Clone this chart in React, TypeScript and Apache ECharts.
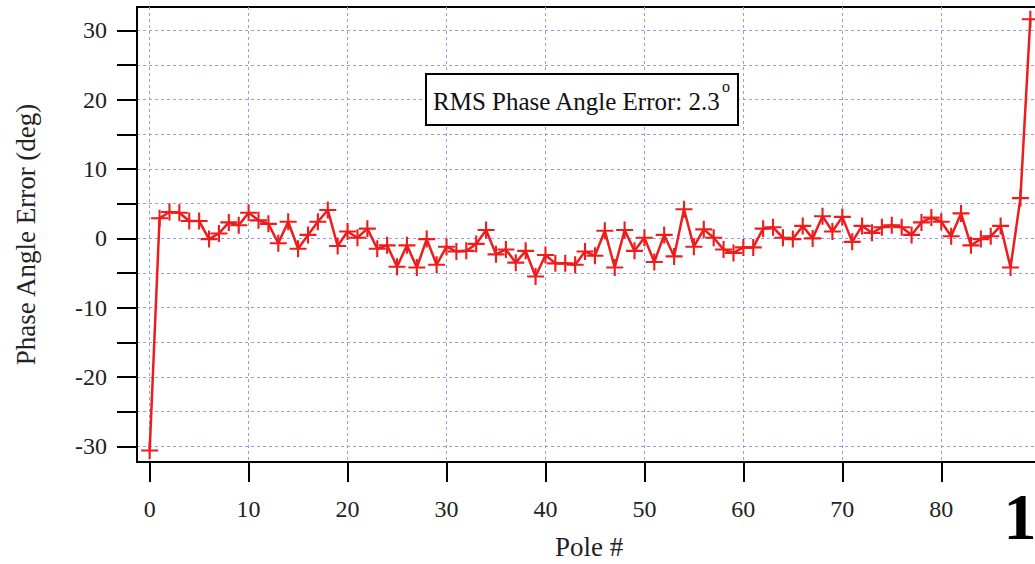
import React, { useEffect, useRef } from "react";
import * as echarts from "echarts";

const poles = [
  0, 1, 2, 3, 4, 5, 6, 7, 8, 9, 10, 11, 12, 13, 14, 15, 16, 17, 18, 19,
  20, 21, 22, 23, 24, 25, 26, 27, 28, 29, 30, 31, 32, 33, 34, 35, 36, 37, 38, 39,
  40, 41, 42, 43, 44, 45, 46, 47, 48, 49, 50, 51, 52, 53, 54, 55, 56, 57, 58, 59,
  60, 61, 62, 63, 64, 65, 66, 67, 68, 69, 70, 71, 72, 73, 74, 75, 76, 77, 78, 79,
  80, 81, 82, 83, 84, 85, 86, 87, 88, 89,
];

const phaseError = [
  -30.6, 2.9, 3.8, 3.7, 2.5, 2.5, -0.1, 0.7, 2.3, 1.9,
  3.7, 2.6, 2.1, -0.7, 2.4, -1.5, 0.5, 2.4, 4.1, -1.1,
  1.0, 0.1, 1.4, -1.5, -1.0, -4.1, -1.0, -4.2, -0.1, -3.8,
  -1.2, -1.9, -1.8, -0.8, 1.2, -2.3, -1.6, -3.5, -1.8, -5.5,
  -2.4, -3.6, -3.6, -3.8, -1.9, -2.5, 1.1, -4.2, 1.2, -1.8,
  0.1, -3.4, 0.5, -2.6, 4.2, -1.2, 1.3, 0.1, -1.6, -2.1,
  -1.3, -1.3, 1.4, 1.6, 0.1, -0.1, 1.8, 0.0, 3.2, 1.0,
  3.1, -0.5, 1.8, 0.8, 1.6, 1.9, 1.6, 0.5, 2.3, 3.0,
  2.4, 0.3, 3.6, -1.0, -0.1, 0.3, 1.8, -4.2, 5.8, 31.6,
];

const xTickValues = [0, 10, 20, 30, 40, 50, 60, 70, 80];
const yTickValues = [-30, -25, -20, -15, -10, -5, 0, 5, 10, 15, 20, 25, 30];
const yLabelValues = [-30, -20, -10, 0, 10, 20, 30];

const FONT = "'Liberation Serif', 'Times New Roman', serif";
const RED = "#ee1c1c";
const GRID_COLOR = "#9a9aec";
const PLUS =
  "path://M7,0 H9 V7 H16 V9 H9 V16 H7 V9 H0 V7 H7 Z";

export default function App() {
  const ref = useRef<HTMLDivElement>(null);

  useEffect(() => {
    if (!ref.current) return;
    const chart = echarts.init(ref.current, null, { renderer: "svg" });
    const option: any = {
      animation: false,
      backgroundColor: "#ffffff",
      textStyle: { fontFamily: FONT },
      grid: {
        left: 137,
        top: 7,
        right: -6,
        bottom: 102,
        show: true,
        borderColor: "#000",
        borderWidth: 2,
        backgroundColor: "#fff",
        containLabel: false,
        outerBoundsMode: "none",
      },
      xAxis: {
        type: "value",
        min: -1.28,
        max: 90.08,
        splitNumber: 9,
        name: "Pole #",
        nameLocation: "middle",
        nameGap: 71,
        nameTextStyle: { fontSize: 27, color: "#222", fontFamily: FONT },
        axisLine: { show: true, onZero: false, lineStyle: { color: "#000", width: 2 } },
        axisTick: {
          show: true,
          length: 20,
          customValues: xTickValues,
          lineStyle: { color: "#000", width: 2 },
        },
        axisLabel: {
          customValues: xTickValues,
          margin: 35,
          fontSize: 24,
          color: "#222",
          fontFamily: FONT,
        },
        splitLine: {
          show: true,
          lineStyle: { color: GRID_COLOR, type: [3, 3], width: 1 },
        },
      },
      yAxis: {
        type: "value",
        min: -32.25,
        max: 33.37,
        splitNumber: 13,
        name: "Phase Angle Error (deg)",
        nameLocation: "middle",
        nameGap: 98,
        nameTextStyle: { fontSize: 27, color: "#222", fontFamily: FONT },
        axisLine: { show: true, onZero: false, lineStyle: { color: "#000", width: 2 } },
        axisTick: {
          show: true,
          length: 20,
          customValues: yTickValues,
          lineStyle: { color: "#000", width: 2 },
        },
        axisLabel: {
          customValues: yLabelValues,
          margin: 30,
          fontSize: 24,
          color: "#222",
          fontFamily: FONT,
        },
        splitLine: {
          show: true,
          lineStyle: { color: GRID_COLOR, type: [3, 3], width: 1 },
        },
      },
      series: [
        {
          type: "line",
          data: poles.map((p, i) => [p, phaseError[i]]),
          symbol: PLUS,
          symbolSize: 17,
          showAllSymbol: true,
          lineStyle: { color: RED, width: 2.5 },
          itemStyle: { color: RED },
          z: 5,
        },
      ],
      graphic: [
        {
          type: "rect",
          z: 100,
          shape: { x: 426, y: 74, width: 312, height: 51 },
          style: { fill: "#fff", stroke: "#000", lineWidth: 2 },
        },
        {
          type: "text",
          z: 101,
          x: 433,
          y: 101,
          style: {
            text: "RMS Phase Angle Error: 2.3",
            fontSize: 25,
            fontFamily: FONT,
            fill: "#111",
            verticalAlign: "middle",
          },
        },
        {
          type: "text",
          z: 101,
          x: 722,
          y: 86,
          style: {
            text: "o",
            fontSize: 16,
            fontFamily: FONT,
            fill: "#111",
            verticalAlign: "middle",
          },
        },
        {
          type: "text",
          z: 101,
          x: 1020,
          y: 516,
          style: {
            text: "1",
            fontSize: 66,
            fontWeight: "bold",
            fontFamily: FONT,
            fill: "#000",
            align: "center",
            verticalAlign: "middle",
          },
        },
      ],
    };
    chart.setOption(option);
    return () => chart.dispose();
  }, []);

  return (
    <div
      ref={ref}
      style={{ position: "fixed", left: 0, top: 0, width: 1035, height: 564, background: "#fff" }}
    />
  );
}
